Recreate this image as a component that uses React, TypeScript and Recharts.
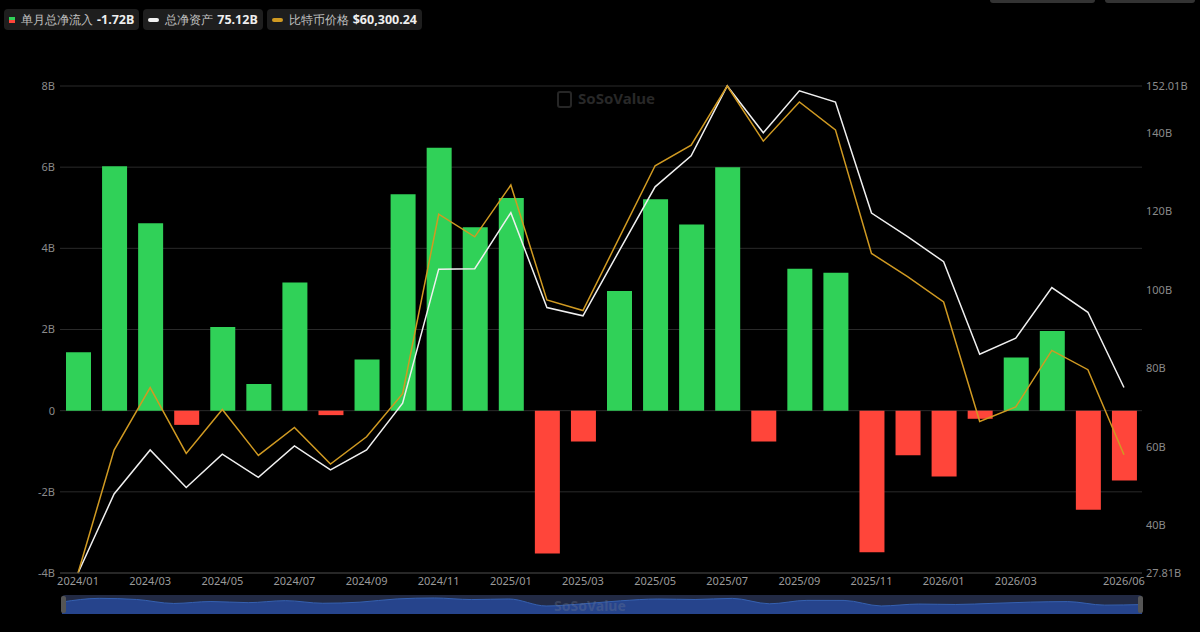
import React from 'react';
import { ComposedChart, Bar, Line, XAxis, YAxis, CartesianGrid, Cell, AreaChart, Area } from 'recharts';

const months = [
  '2024/01', '2024/02', '2024/03', '2024/04', '2024/05', '2024/06', '2024/07', '2024/08', '2024/09', '2024/10',
  '2024/11', '2024/12', '2025/01', '2025/02', '2025/03', '2025/04', '2025/05', '2025/06', '2025/07', '2025/08',
  '2025/09', '2025/10', '2025/11', '2025/12', '2026/01', '2026/02', '2026/03', '2026/04', '2026/05', '2026/06',
];

// 单月总净流入 (B)
const netInflow = [
  1.44, 6.02, 4.62, -0.35, 2.06, 0.66, 3.16, -0.11, 1.26, 5.33,
  6.48, 4.52, 5.24, -3.52, -0.76, 2.95, 5.21, 4.59, 6.0, -0.76,
  3.5, 3.4, -3.49, -1.1, -1.62, -0.2, 1.31, 1.96, -2.44, -1.72,
];

// 总净资产 (B)
const totalAssets = [
  27.81, 47.96, 59.2, 49.6, 58.1, 52.2, 60.2, 54.1, 59.2, 71.1,
  105.3, 105.4, 119.7, 95.5, 93.4, 109.9, 126.3, 134.2, 152.01, 140.1,
  150.8, 147.9, 119.6, 113.6, 107.2, 83.6, 87.7, 100.6, 94.3, 75.12,
];

// 比特币价格 (USD)
const btcPrice = [
  42500, 61000, 70400, 60500, 67100, 60200, 64400, 58900, 63000, 69500,
  96500, 93100, 100900, 83600, 82000, 92900, 103800, 106900, 115800, 107500,
  113400, 109200, 90600, 87100, 83300, 65300, 67500, 76000, 73100, 60300.24,
];

const xTicks = [
  '2024/01', '2024/03', '2024/05', '2024/07', '2024/09', '2024/11', '2025/01', '2025/03',
  '2025/05', '2025/07', '2025/09', '2025/11', '2026/01', '2026/03', '2026/06',
];
const leftTicks = [-4, -2, 0, 2, 4, 6, 8];
const rightTicks = [27.81, 40, 60, 80, 100, 120, 140, 152.01];

const data = months.map((m, i) => ({
  month: m,
  flow: netInflow[i],
  assets: totalAssets[i],
  price: btcPrice[i],
}));

const GREEN = '#30d158';
const RED = '#ff453a';
const ORANGE = '#d09a22';
const tickStyle = { fill: '#8a8a8a', fontSize: 11 };

const LegendItem: React.FC<{ icon: React.ReactNode; label: string; value: string }> = ({ icon, label, value }) => (
  <div style={{ display: 'flex', alignItems: 'center', background: '#1e1e1e', borderRadius: 4, height: 21, padding: '0 5px', marginRight: 4, fontSize: 12 }}>
    {icon}
    <span style={{ color: '#c0c0c0', marginLeft: 6 }}>{label}</span>
    <span style={{ color: '#eeeeee', fontWeight: 700, marginLeft: 4, fontSize: 12.5 }}>{value}</span>
  </div>
);

const dash = (color: string) => (
  <span style={{ display: 'inline-block', width: 11, height: 4, borderRadius: 2, background: color }} />
);

export default function App() {
  return (
    <div style={{ position: 'fixed', left: 0, top: 0, width: 1200, height: 632, background: '#000', fontFamily: '"Noto Sans", sans-serif', overflow: 'hidden' }}>
      <div style={{ position: 'absolute', left: 990, top: 0, width: 105, height: 3, background: '#333', borderRadius: '0 0 3px 3px' }} />
      <div style={{ position: 'absolute', left: 1105, top: 0, width: 90, height: 3, background: '#333', borderRadius: '0 0 3px 3px' }} />
      <div style={{ position: 'absolute', left: 4, top: 9, display: 'flex' }}>
        <LegendItem
          icon={
            <span style={{ display: 'inline-flex', flexDirection: 'column', width: 6 }}>
              <span style={{ height: 3, background: GREEN }} />
              <span style={{ height: 3, background: RED }} />
            </span>
          }
          label="单月总净流入"
          value="-1.72B"
        />
        <LegendItem icon={dash('#f0f0f0')} label="总净资产" value="75.12B" />
        <LegendItem icon={dash(ORANGE)} label="比特币价格" value="$60,300.24" />
      </div>
      <div style={{ position: 'absolute', left: 557, top: 91, width: 15, height: 17, border: '2px solid #262626', borderRadius: 3, boxSizing: 'border-box' }} />
      <div style={{ position: 'absolute', left: 578, top: 88, color: '#282828', fontSize: 15, fontWeight: 700 }}>SoSoValue</div>

      <div style={{ position: 'absolute', left: 0, top: 0 }}>
        <ComposedChart width={1200} height={600} data={data} margin={{ top: 86, right: 8, bottom: 7, left: 10 }}>
          <CartesianGrid yAxisId="left" vertical={false} stroke="#2a2a2a" />
          <XAxis
            dataKey="month"
            ticks={xTicks}
            interval={0}
            tickLine={false}
            axisLine={{ stroke: '#3a3a3a' }}
            tickSize={0}
            tickMargin={4}
            height={20}
            tick={{ fill: '#9a9a9a', fontSize: 11 }}
          />
          <YAxis
            yAxisId="left"
            domain={[-4, 8]}
            ticks={leftTicks}
            width={50}
            tickLine={false}
            axisLine={false}
            tickSize={0}
            tickMargin={5}
            tick={tickStyle}
            tickFormatter={(v: number) => (v === 0 ? '0' : `${v}B`)}
          />
          <YAxis
            yAxisId="right"
            orientation="right"
            domain={[27.81, 152.01]}
            ticks={rightTicks}
            width={50}
            tickLine={false}
            axisLine={false}
            tickSize={0}
            tickMargin={4}
            tick={tickStyle}
            tickFormatter={(v: number) => `${v}B`}
          />
          <YAxis yAxisId="price" hide domain={[42500, 115800]} />
          <Bar yAxisId="left" dataKey="flow" barSize={25} isAnimationActive={false}>
            {data.map((d, i) => (
              <Cell key={i} fill={d.flow >= 0 ? GREEN : RED} />
            ))}
          </Bar>
          <Line yAxisId="right" dataKey="assets" type="linear" stroke="#f0f0f0" strokeWidth={1.5} dot={false} isAnimationActive={false} />
          <Line yAxisId="price" dataKey="price" type="linear" stroke={ORANGE} strokeWidth={1.5} dot={false} isAnimationActive={false} />
        </ComposedChart>
      </div>

      <div style={{ position: 'absolute', left: 62, top: 595, width: 1080, height: 19, background: '#222a44', borderRadius: 3 }}>
        <AreaChart width={1080} height={19} data={data} margin={{ top: 0, right: 0, bottom: 0, left: 0 }}>
          <YAxis hide domain={[-13.5, 10.2]} />
          <XAxis dataKey="month" hide />
          <Area dataKey="flow" type="monotone" stroke="#3560b0" fill="#26448c" fillOpacity={1} baseValue="dataMin" isAnimationActive={false} />
        </AreaChart>
        <div style={{ position: 'absolute', left: 492, top: 1, color: 'rgba(120,130,150,0.3)', fontSize: 14, fontWeight: 700 }}>SoSoValue</div>
        <div style={{ position: 'absolute', left: -1, top: 1, width: 5, height: 17, background: '#555', borderRadius: 2 }} />
        <div style={{ position: 'absolute', right: -1, top: 1, width: 5, height: 17, background: '#555', borderRadius: 2 }} />
      </div>
    </div>
  );
}
